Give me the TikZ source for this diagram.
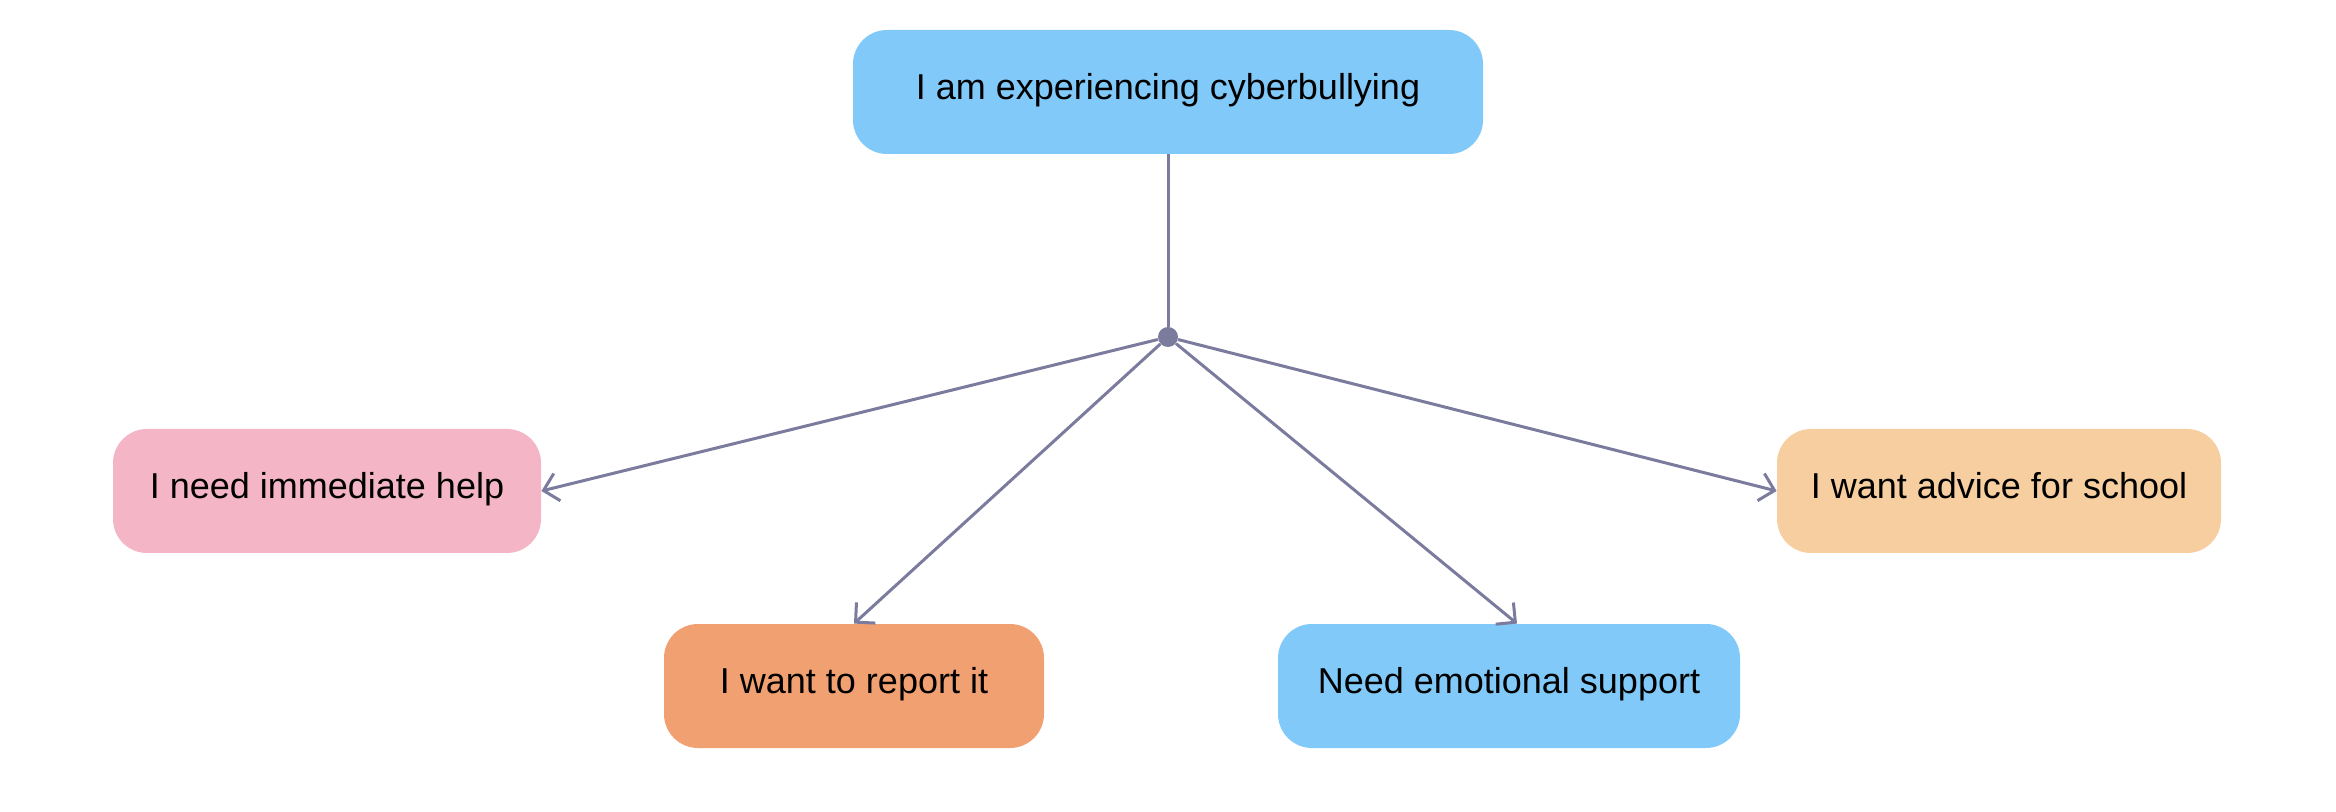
\documentclass[tikz,border=0pt]{standalone}
\usepackage{fontspec}
\setmainfont{Liberation Sans}
\usetikzlibrary{arrows.meta}
\definecolor{linkgray}{RGB}{123,123,158}
\definecolor{skyblue}{RGB}{129,201,248}
\definecolor{softpink}{RGB}{244,182,199}
\definecolor{coral}{RGB}{241,160,114}
\definecolor{peach}{RGB}{246,206,159}
\tikzset{
  choice/.style={rounded corners=17pt, inner sep=0pt, minimum height=62pt,
    text height=0.72em, text depth=0pt,
    font=\fontsize{18}{21}\selectfont},
  link/.style={draw=linkgray, line width=1.5pt,
    -{Straight Barb[length=7pt,width=14pt,line width=1.5pt]}}
}
\begin{document}
\begin{tikzpicture}[x=0.5pt, y=-0.5pt]
            \useasboundingbox (0,0) rectangle (2336,812);
            \node[choice, fill=skyblue, minimum width=315pt] (cyber) at (1168,92) {I am experiencing cyberbullying};
            \node[circle, fill=linkgray, inner sep=0pt, minimum size=10pt] (hub) at (1168,337) {};
            \node[choice, fill=softpink, minimum width=214pt] (help) at (327,491) {I need immediate help};
            \node[choice, fill=coral, minimum width=190pt] (report) at (854,686) {I want to report it};
            \node[choice, fill=skyblue, minimum width=231pt] (support) at (1509,686) {Need emotional support};
            \node[choice, fill=peach, minimum width=222pt] (school) at (1999,491) {I want advice for school};

            \draw[draw=linkgray, line width=1.5pt] (cyber) -- (hub);
            \draw[link] (hub) -- (help.east);
            \draw[link] (hub) -- (report.north);
            \draw[link] (hub) -- ([xshift=4pt]support.north);
            \draw[link] (hub) -- (school.west);
        \end{tikzpicture}
\end{document}
